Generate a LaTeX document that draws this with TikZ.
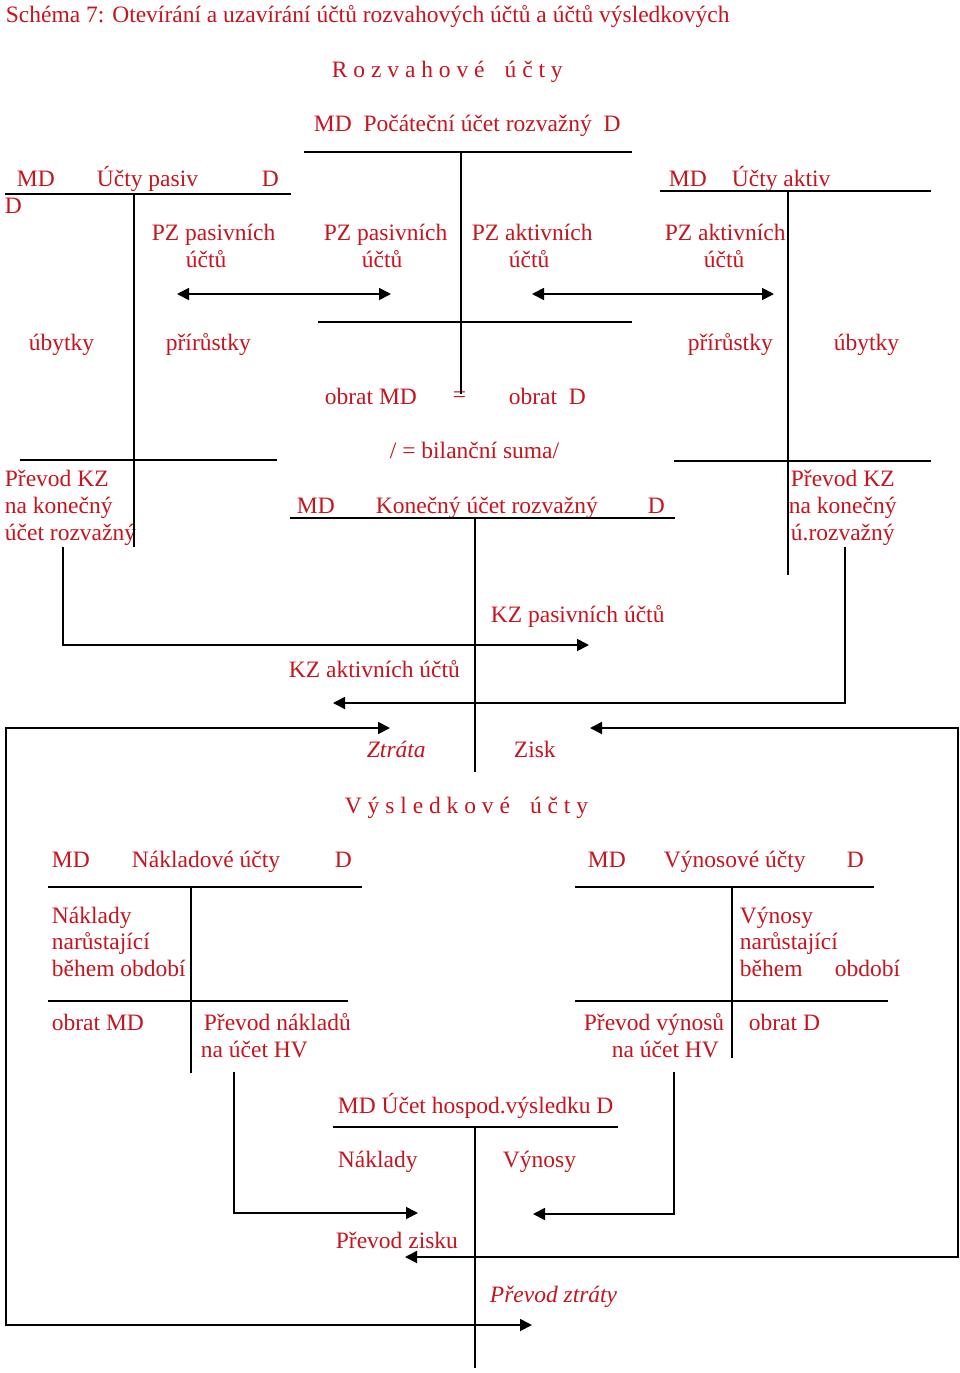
\documentclass[tikz,border=0pt]{standalone}
\usepackage{fontspec}
\setmainfont{Liberation Serif}
\usetikzlibrary{arrows.meta}
\definecolor{txtred}{RGB}{200,20,30}
\begin{document}
\begin{tikzpicture}[x=1pt,y=-1pt,line width=1.8pt,
  t/.style={anchor=base west,inner sep=0pt,text=txtred,font=\fontsize{23.5}{27}\selectfont},
  ti/.style={t,font=\fontsize{23.5}{27}\selectfont\itshape},
  tip/.tip={Triangle[length=12pt,width=12pt]},
  arr/.style={-tip},
  darr/.style={tip-tip}]
\fill[white] (0,0) rectangle (960,1373);
\useasboundingbox (0,0) rectangle (960,1373);

% ---------- texts ----------
\node[t] (title) at (5,23) {Schéma 7: Otevírání a uzavírání účtů rozvahových účtů a účtů výsledkových};
\node[t] (rozv) at (331,77) {R o z v a h o v é\hspace{20pt}ú č t y};
\node[t] (poc) at (313,131) {MD\ \ Počáteční účet rozvažný\ \ D};

\node[t] (pMD) at (16,186) {MD};
\node[t] (pT) at (96,186) {Účty pasiv};
\node[t] (pD) at (261,186) {D};
\node[t] (pD2) at (4,213) {D};
\node[t] (aMD) at (668,186) {MD};
\node[t] (aT) at (731,186) {Účty aktiv};

\node[t] (pz1a) at (151,240) {PZ pasivních};
\node[t] (pz1b) at (185,267) {účtů};
\node[t] (pz2a) at (323,240) {PZ pasivních};
\node[t] (pz2b) at (361,267) {účtů};
\node[t] (pz3a) at (471,240) {PZ aktivních};
\node[t] (pz3b) at (508,267) {účtů};
\node[t] (pz4a) at (664,240) {PZ aktivních};
\node[t] (pz4b) at (703,267) {účtů};

\node[t] (ub1) at (28,350) {úbytky};
\node[t] (pr1) at (165,350) {přírůstky};
\node[t] (pr2) at (687,350) {přírůstky};
\node[t] (ub2) at (833,350) {úbytky};

\node[t] (obMD) at (324,404) {obrat MD};
\node[t] (eq) at (452,402) {=};
\node[t] (obD) at (508,404) {obrat\ \ D};
\node[t] (bil) at (389,458) {/ = bilanční suma/};

\node[t] (kzL1) at (4,486) {Převod KZ};
\node[t] (kzL2) at (4,513) {na konečný};
\node[t] (kzL3) at (4,540) {účet rozvažný};
\node[t] (kzR1) at (790,486) {Převod KZ};
\node[t] (kzR2) at (788,513) {na konečný};
\node[t] (kzR3) at (790,540) {ú.rozvažný};

\node[t] (kMD) at (296,513) {MD};
\node[t] (kT) at (375,513) {Konečný účet rozvažný};
\node[t] (kD) at (647,513) {D};

\node[t] (kzp) at (490,622) {KZ pasivních účtů};
\node[t] (kza) at (288,677) {KZ aktivních účtů};

\node[ti] (ztr) at (366,757) {Ztráta};
\node[t] (zis) at (513,757) {Zisk};
\node[t] (vys) at (344,813) {V ý s l e d k o v é\hspace{20pt}ú č t y};

\node[t] (nMD) at (51,867) {MD};
\node[t] (nT) at (131,867) {Nákladové účty};
\node[t] (nD) at (334,867) {D};
\node[t] (vMD) at (587,867) {MD};
\node[t] (vT) at (663,867) {Výnosové účty};
\node[t] (vD) at (846,867) {D};

\node[t] (nk1) at (51,923) {Náklady};
\node[t] (nk2) at (51,949) {narůstající};
\node[t] (nk3) at (51,976) {během období};
\node[t] (vy1) at (739,923) {Výnosy};
\node[t] (vy2) at (739,949) {narůstající};
\node[t] (vy3a) at (739,976) {během};
\node[t] (vy3b) at (834,976) {období};

\node[t] (obMDn) at (51,1030) {obrat MD};
\node[t] (pn1) at (203,1030) {Převod nákladů};
\node[t] (pn2) at (200,1057) {na účet HV};
\node[t] (pv1) at (583,1030) {Převod výnosů};
\node[t] (pv2) at (611,1057) {na účet HV};
\node[t] (obDv) at (748,1030) {obrat D};

\node[t] (hv) at (337,1113) {MD Účet hospod.výsledku D};
\node[t] (hvN) at (337,1167) {Náklady};
\node[t] (hvV) at (502,1167) {Výnosy};
\node[t] (pzis) at (335,1248) {Převod zisku};
\node[ti] (pztr) at (489,1302) {Převod ztráty};

% ---------- T-account lines ----------
% Pocatecni ucet rozvazny
\draw (304,152) -- (632,152);
\draw (461,152) -- (461,394);
\draw (318,322) -- (632,322);
% Ucty pasiv
\draw (5,194) -- (291,194);
\draw (134,194) -- (134,547);
\draw (20,460) -- (277,460);
% Ucty aktiv
\draw (660,191) -- (931,191);
\draw (788,191) -- (788,575);
\draw (674,461) -- (931,461);
% Konecny ucet rozvazny
\draw (290,518) -- (675,518);
\draw (475,518) -- (475,772);
% Nakladove ucty
\draw (48,887) -- (362,887);
\draw (191,887) -- (191,1073);
\draw (48,1001) -- (348,1001);
% Vynosove ucty
\draw (575,887) -- (874,887);
\draw (732,887) -- (732,1058);
\draw (575,1001) -- (888,1001);
% Ucet HV
\draw (333,1127) -- (618,1127);
\draw (475,1127) -- (475,1368);

% ---------- connectors ----------
\coordinate (pzpL) at (177,294);
\coordinate (pzpR) at (391,294);
\coordinate (pzaL) at (532,294);
\coordinate (pzaR) at (774,294);
\draw[darr] (pzpL) -- (pzpR);
\draw[darr] (pzaL) -- (pzaR);

\coordinate (kzLs) at (63,547);
\coordinate (kzLe) at (589,645);
\draw[arr] (kzLs) |- (kzLe);
\coordinate (kzRs) at (845,547);
\coordinate (kzRe) at (333,703);
\draw[arr] (kzRs) |- (kzRe);

\coordinate (lossA) at (532,1325);
\coordinate (lossB) at (390,728);
\draw[darr] (lossA) -- (6,1325) -- (6,728) -- (lossB);
\coordinate (profA) at (590,728);
\coordinate (profB) at (405,1257);
\draw[darr] (profA) -- (958,728) -- (958,1257) -- (profB);

\coordinate (cnS) at (234,1072);
\coordinate (cnE) at (418,1213);
\draw[arr] (cnS) |- (cnE);
\coordinate (cvS) at (674,1072);
\coordinate (cvE) at (533,1214);
\draw[arr] (cvS) |- (cvE);
\end{tikzpicture}
\end{document}
